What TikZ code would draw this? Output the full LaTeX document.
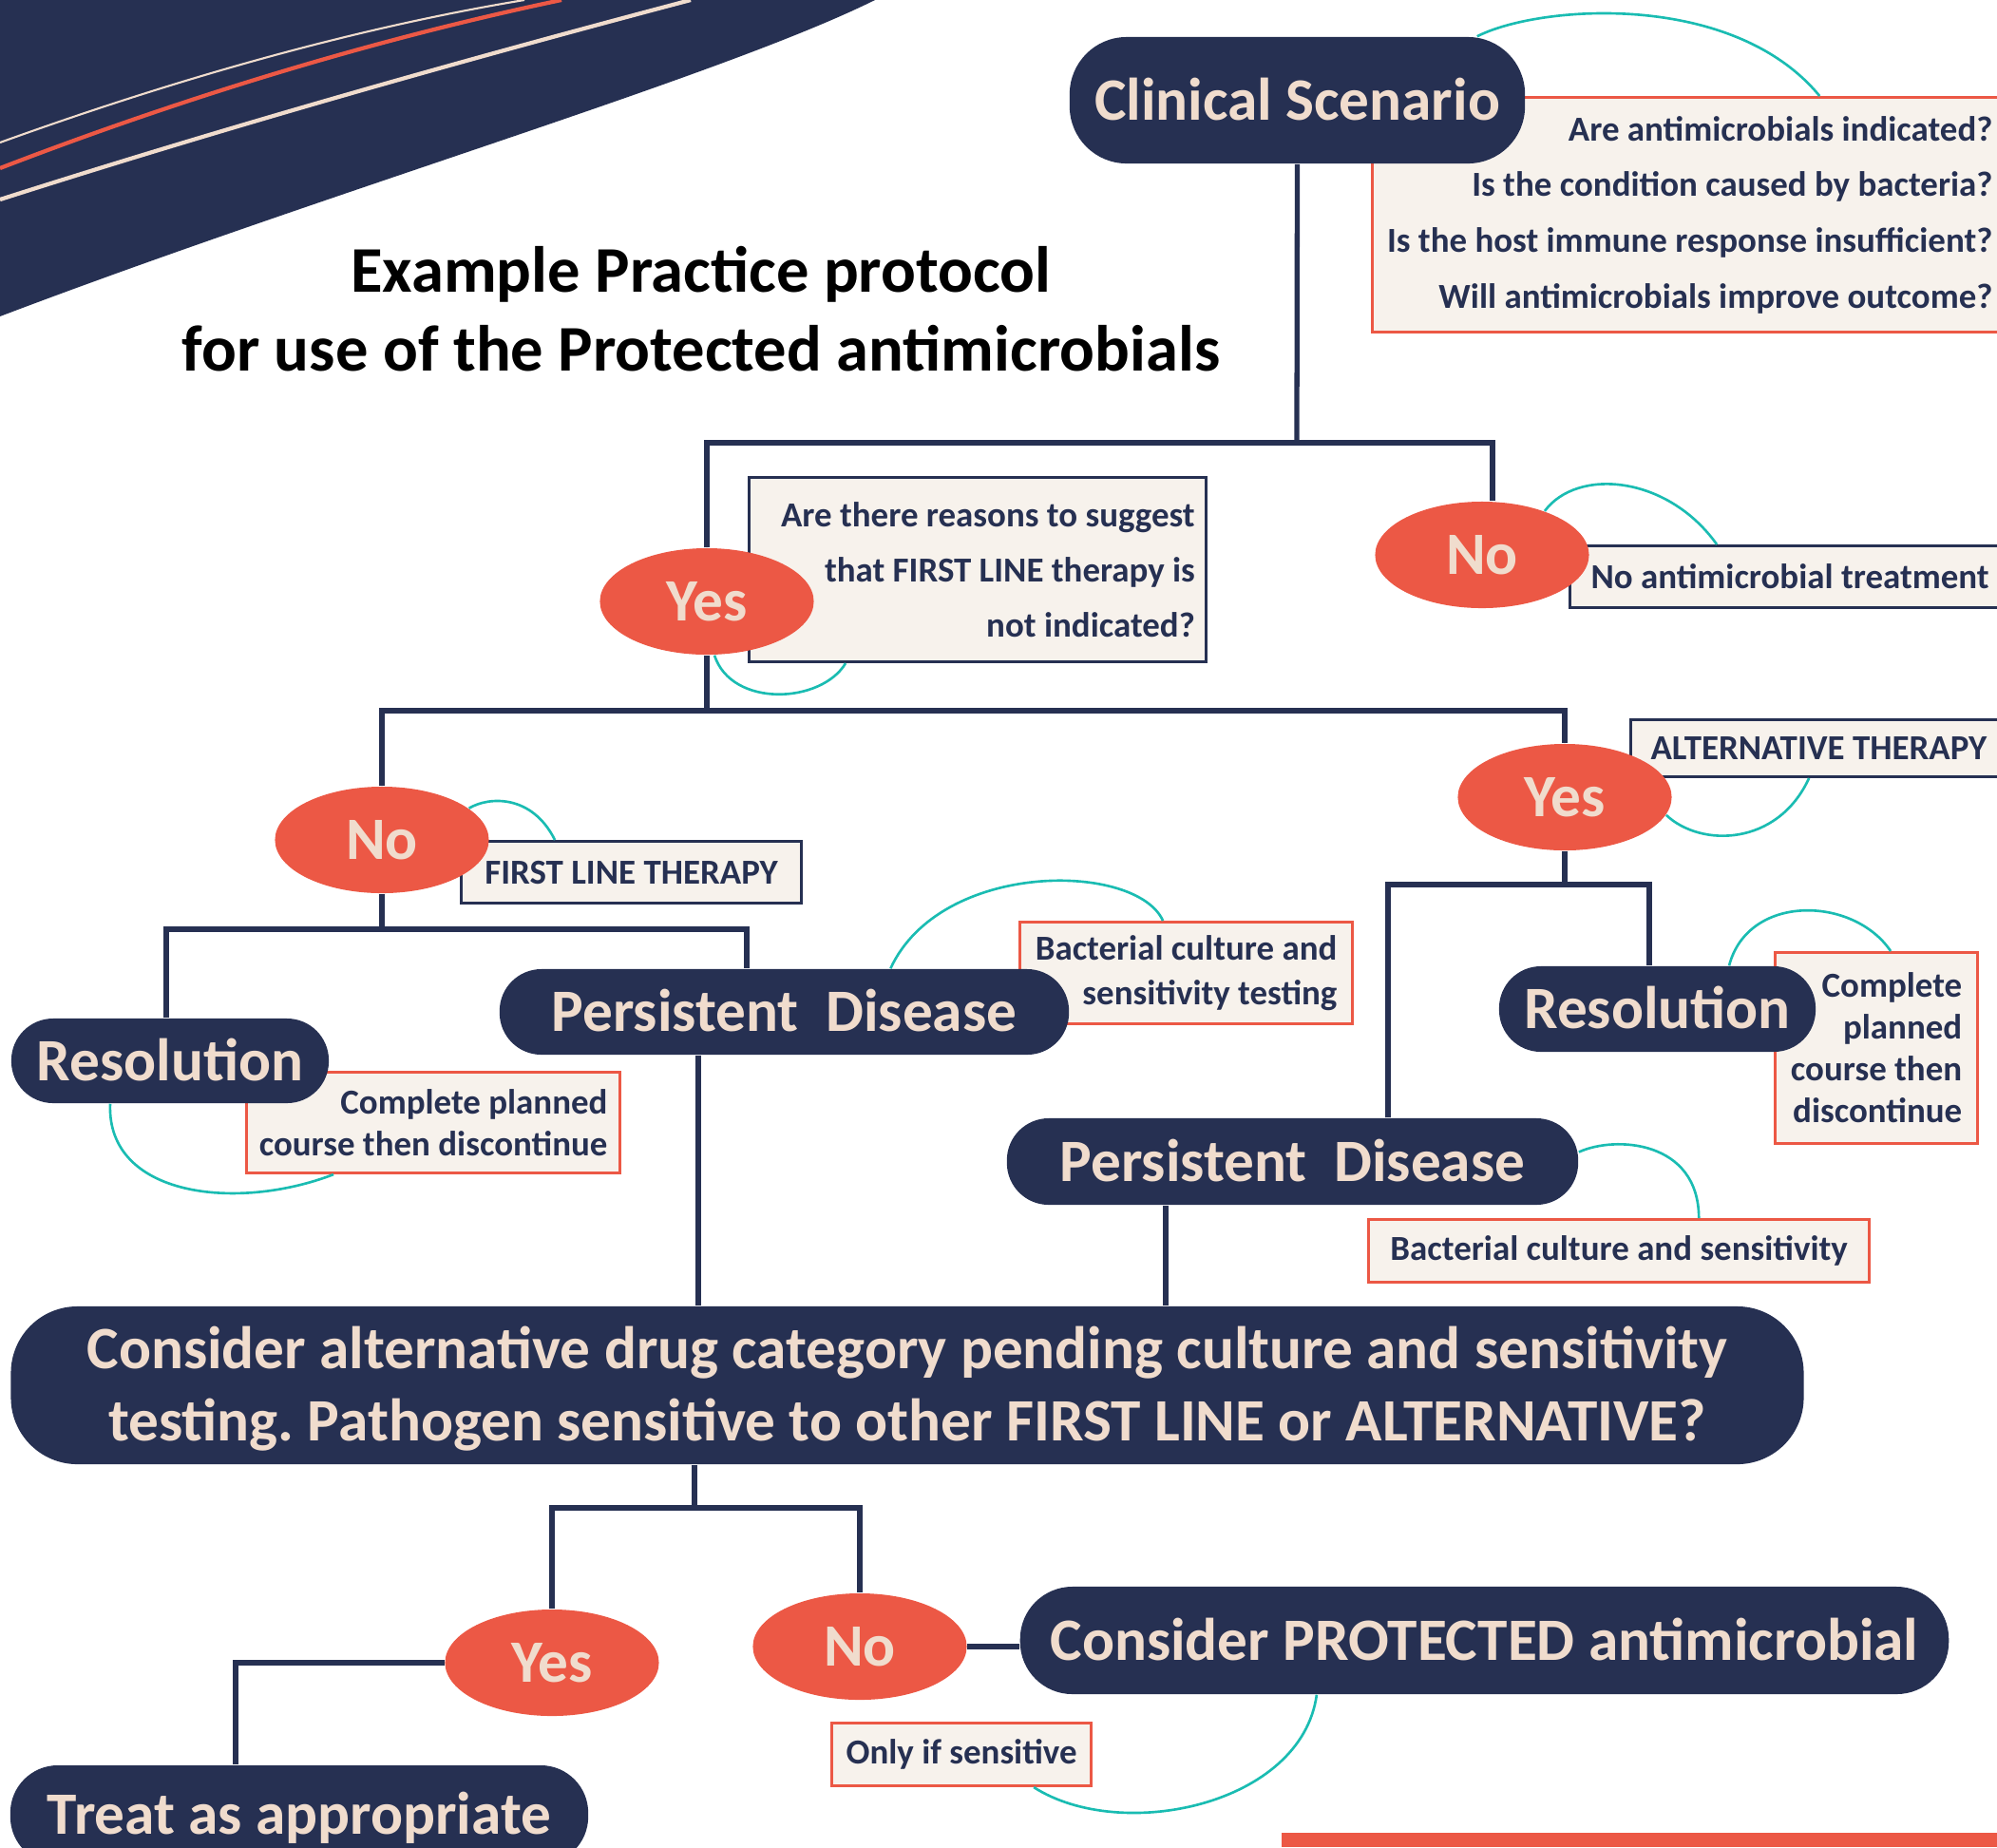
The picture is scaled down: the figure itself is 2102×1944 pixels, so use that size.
\documentclass[tikz,border=0pt]{standalone}
\usepackage{fontspec}
\setmainfont{Carlito}
\usepackage{tikz}
\usetikzlibrary{positioning, shapes.geometric}
\definecolor{stagenavy}{RGB}{38, 48, 82}
\definecolor{answerred}{RGB}{236, 88, 69}
\definecolor{labelcream}{RGB}{240, 220, 205}
\definecolor{notepaper}{RGB}{247, 242, 236}
\definecolor{linkteal}{RGB}{26, 188, 178}
\frenchspacing

\begin{document}
\begin{tikzpicture}[
    x=0.01cm, y=-0.01cm,
    stage/.style={rectangle, fill=stagenavy, text=labelcream, rounded corners=0.44cm, inner sep=0pt, text height=0.41cm, text depth=0pt, font=\fontsize{18}{21.6}\selectfont\bfseries},
    answer/.style={ellipse, fill=answerred, text=labelcream, minimum width=2.25cm, minimum height=1.12cm, inner sep=0pt, text height=0.41cm, text depth=0pt, font=\fontsize{18}{21.6}\selectfont\bfseries},
    note/.style={rectangle, draw=stagenavy, line width=0.85pt, fill=notepaper, text=stagenavy, anchor=north west, inner sep=0pt, font=\fontsize{10.5}{16.7}\selectfont\bfseries},
    rednote/.style={note, draw=answerred},
    branch/.style={draw=stagenavy, line width=1.5pt},
    hook/.style={draw=linkteal, line width=0.75pt}
]
\clip (0,0) rectangle (2102,1944);

% Corner banner
\fill[stagenavy] (0,0) -- (921,0) .. controls (760,80) and (350,200) .. (0,333) -- cycle;
\draw[labelcream, line width=0.6pt] (0,150) .. controls (180,85) and (370,30) .. (552,0);
\draw[answerred, line width=1.2pt] (0,177) .. controls (200,100) and (400,40) .. (591,0);
\draw[labelcream, line width=1.2pt] (0,210) .. controls (250,130) and (500,60) .. (727,0);

% Title
\node[font=\fontsize{19.5}{23.6}\selectfont\bfseries, align=center, inner sep=0pt, text height=1.273cm, text depth=0pt] (title) at (738,326.5) {Example Practice protocol\\for use of the Protected antimicrobials};

% ============ CALLOUTS ============
\node[rednote, minimum width=6.68cm, minimum height=2.47cm, align=right] (scenq) at (1443,101) {Are antimicrobials indicated?\\Is the condition caused by bacteria?\\Is the host immune response insufficient?\\Will antimicrobials improve outcome?};
\node[note, minimum width=4.81cm, minimum height=1.94cm, text width=4.57cm, align=flush right, font=\fontsize{10.5}{16.4}\selectfont\bfseries] (reasonq) at (787,501) {Are there reasons to suggest\\that FIRST LINE therapy is\\not indicated?};
\node[note, minimum width=5cm, minimum height=0.65cm, text width=4.56cm, align=flush left] (notreat) at (1651,573) {No antimicrobial treatment};
\node[note, minimum width=3.58cm, minimum height=0.65cm] (firstq) at (484,884) {FIRST LINE THERAPY};
\node[note, minimum width=4.4cm, minimum height=0.6cm, text width=3.98cm, align=flush left] (altq) at (1715,756) {ALTERNATIVE THERAPY};
\node[rednote, minimum width=3.93cm, minimum height=1.06cm, align=right, font=\fontsize{10.5}{12.5}\selectfont\bfseries] (compA) at (258,1127) {Complete planned\\course then discontinue};
\node[rednote, minimum width=3.5cm, minimum height=1.07cm, align=right, font=\fontsize{10.5}{13.4}\selectfont\bfseries] (bactA) at (1072,969) {Bacterial culture and\\sensitivity testing};
\node[rednote, minimum width=2.13cm, minimum height=2.01cm, align=right, font=\fontsize{10.5}{12.5}\selectfont\bfseries] (compB) at (1867,1001) {Complete\\planned\\course then\\discontinue};
\node[rednote, minimum width=5.27cm, minimum height=0.66cm] (bactB) at (1439,1282) {Bacterial culture and sensitivity};
\node[rednote, minimum width=2.73cm, minimum height=0.66cm] (onlyq) at (874,1812) {Only if sensitive};

% ============ STAGES ============
\node[stage, minimum width=4.79cm, minimum height=1.33cm, rounded corners=0.6cm] (clinical) at (1365.5,105.5) {Clinical Scenario};
\node[stage, minimum width=3.34cm, minimum height=0.89cm] (resA) at (179,1116.5) {Resolution};
\node[stage, minimum width=5.99cm, minimum height=0.9cm] (persA) at (825.5,1065) {Persistent~~Disease};
\node[stage, minimum width=3.33cm, minimum height=0.9cm] (resB) at (1744.5,1062) {Resolution};
\node[stage, minimum width=6.01cm, minimum height=0.91cm] (persB) at (1360.5,1222.5) {Persistent~~Disease};
\node[stage, minimum width=18.86cm, minimum height=1.66cm, rounded corners=0.7cm, text width=18.6cm, align=flush center, text depth=0.762cm] (big) at (955,1458) {Consider alternative drug category pending culture and sensitivity\\testing. Pathogen sensitive to other FIRST LINE or ALTERNATIVE?};
\node[stage, minimum width=9.77cm, minimum height=1.13cm, rounded corners=0.55cm] (protected) at (1562.5,1726.5) {Consider PROTECTED antimicrobial};
\node[stage, minimum width=6.08cm, minimum height=1.04cm, rounded corners=0.5cm] (treat) at (315,1910) {Treat as appropriate};

% Answers
\node[answer] (yesA) at (744,633) {Yes};
\node[answer] (noA) at (1560,584) {No};
\node[answer] (noB) at (402,884) {No};
\node[answer] (yesB) at (1647,839) {Yes};
\node[answer] (yesC) at (581,1750) {Yes};
\node[answer] (noC) at (905,1733) {No};

% ============ CONNECTORS ============
\coordinate (split1) at (1365,466);
\draw[branch] (clinical.south) -- (split1);
\draw[branch] (yesA.north) |- (split1) -| ([xshift=0.11cm]noA.north);

\coordinate (split2) at (744,748);
\draw[branch] (yesA.south) -- (split2);
\draw[branch] (noB.north) |- (split2) -| (yesB.north);

\coordinate (split3) at (402,978);
\draw[branch] (noB.south) -- (split3);
\draw[branch] ([xshift=-0.04cm]resA.north) |- (split3) -| ([xshift=-0.395cm]persA.north);

\coordinate (split4) at (1647,931);
\draw[branch] (yesB.south) -- (split4);
\draw[branch] ([xshift=1.005cm]persB.north) |- (split4) -| ([xshift=-0.085cm]resB.north);

\draw[branch] ([xshift=-0.905cm]persA.south) -- ([xshift=-0.905cm]persA.south |- big.north);
\draw[branch] ([xshift=-1.335cm]persB.south) -- ([xshift=-1.335cm]persB.south |- big.north);

\coordinate (split5) at (731,1587);
\draw[branch] (big.south -| split5) -- (split5);
\draw[branch] (yesC.north) |- (split5) -| (noC.north);
\draw[branch] (noC.east) -- (noC.east -| protected.west);
\draw[branch] (yesC.west) -| ([xshift=-0.67cm]treat.north);

% Teal hooks to the callouts
\draw[hook] ([xshift=-0.51cm]clinical.north east) .. controls (1620,5) and (1824,-10) .. ([xshift=4.72cm]scenq.north west);
\draw[hook] ([xshift=0.08cm]yesA.south) .. controls (770,745) and (864,741) .. ([xshift=1.03cm]reasonq.south west);
\draw[hook] (noA.35) .. controls (1660,492) and (1755,500) .. ([xshift=1.56cm]notreat.north west);
\draw[hook] (noB.20) .. controls (515,838) and (560,836) .. ([xshift=1cm]firstq.north west);
\draw[hook] (yesB.350) .. controls (1790,892) and (1871,891) .. ([xshift=1.89cm]altq.south west);
\draw[hook] ([xshift=-0.63cm]resA.south) .. controls (112,1260) and (250,1275) .. ([xshift=0.93cm]compA.south west);
\draw[hook] ([xshift=4.12cm]persA.north west) .. controls (990,905) and (1196,907) .. ([xshift=1.52cm]bactA.north west);
\draw[hook] ([xshift=0.755cm]resB.north) .. controls (1840,940) and (1951,943) .. ([xshift=1.23cm]compB.north west);
\draw[hook] ([yshift=0.1cm]persB.east) .. controls (1700,1195) and (1788,1200) .. ([xshift=3.49cm]bactB.north west);
\draw[hook] ([xshift=-1.765cm]protected.south) .. controls (1370,1900) and (1180,1940) .. ([xshift=2.14cm]onlyq.south west);

% Footer bar
\fill[answerred] (1349,1929) rectangle (2102,1944);

\end{tikzpicture}
\end{document}
